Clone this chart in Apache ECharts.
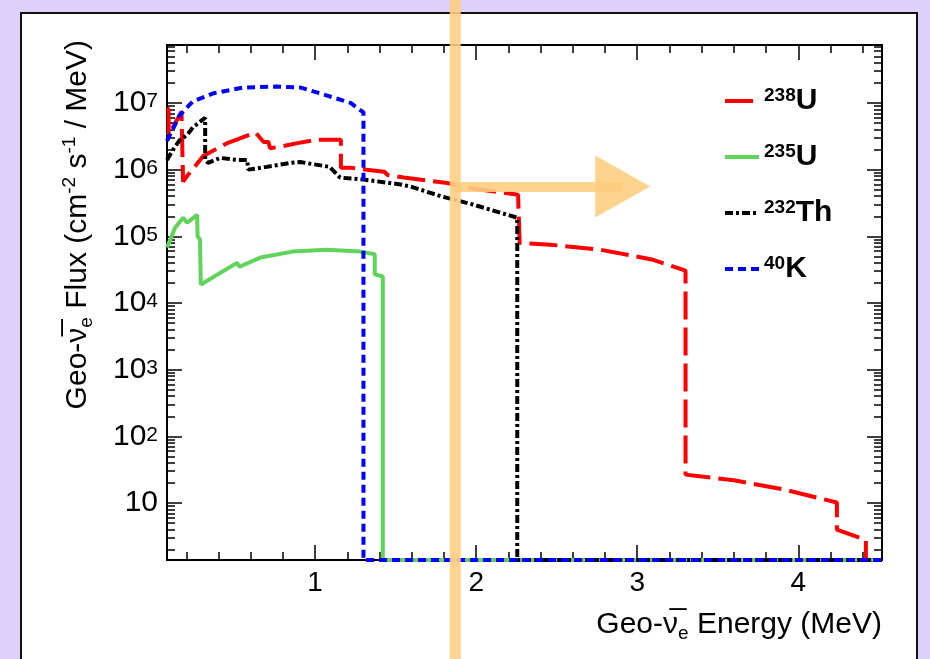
<!DOCTYPE html>
<html>
<head>
<meta charset="utf-8">
<script src="https://cdn.jsdelivr.net/npm/echarts@6/dist/echarts.min.js"></script>
<style>
html, body { margin: 0; padding: 0; width: 930px; height: 659px; background: #ddd0fa; overflow: hidden; }
#panel { position: absolute; left: 20px; top: 12px; width: 894px; height: 670px; background: #fff; border: 2px solid #111; }
#chart { position: absolute; left: 0; top: 0; width: 930px; height: 659px; }
</style>
</head>
<body>
<div id="panel"></div>
<div id="chart"></div>
<script>
// axis ranges
var X_MIN = 0.08, X_MAX = 4.52;
var Y_MIN = 1.4, Y_MAX = 7.4e7;
var FLOOR = Y_MIN; // zero flux sits on the bottom of the frame

// tick values
var xMajor = [1, 2, 3, 4];
var xMinor = [0.2, 0.4, 0.6, 0.8, 1.2, 1.4, 1.6, 1.8, 2.2, 2.4, 2.6, 2.8, 3.2, 3.4, 3.6, 3.8, 4.2, 4.4];
var yMajor = [10, 100, 1e3, 1e4, 1e5, 1e6, 1e7];
var yDecades = [1, 10, 100, 1e3, 1e4, 1e5, 1e6, 1e7];
var yMult = [2, 3, 4, 5, 6, 7, 8, 9];

// 238U
var u238E = [0.08, 0.09, 0.09, 0.17, 0.18, 0.18, 0.205, 0.305, 0.455, 0.63, 0.68, 0.71, 0.72, 0.78, 0.89, 1.01, 1.16, 1.16, 1.22, 1.32, 1.43, 1.45, 1.55, 1.82, 1.98, 2.26, 2.27, 2.27, 2.46, 2.77, 3.09, 3.30, 3.30, 3.60, 3.91, 4.12, 4.24, 4.24, 4.42, 4.42, 4.52];
var u238F = [8.5e6, 7.9e6, 3.3e6, 7.4e6, 7.4e6, 6.6e5, 8.0e5, 1.6e6, 2.5e6, 3.6e6, 2.6e6, 2.6e6, 2.1e6, 2.2e6, 2.5e6, 2.8e6, 2.8e6, 1.07e6, 1.07e6, 1.0e6, 9.3e5, 8.3e5, 7.6e5, 6.3e5, 5.2e5, 4.2e5, 4.2e5, 8.0e4, 7.5e4, 6.3e4, 4.5e4, 3.05e4, 26.7, 22, 16, 12, 10.2, 4.0, 2.8, FLOOR, FLOOR];

// 235U
var u235E = [0.08, 0.13, 0.18, 0.205, 0.267, 0.27, 0.285, 0.29, 0.515, 0.53, 0.66, 0.86, 1.07, 1.28, 1.37, 1.37, 1.42, 1.42, 4.52];
var u235F = [6.8e4, 1.35e5, 1.9e5, 1.6e5, 2.1e5, 1.0e5, 8.9e4, 1.9e4, 4.0e4, 3.5e4, 4.8e4, 5.9e4, 6.3e4, 5.9e4, 5.4e4, 2.7e4, 2.5e4, FLOOR, FLOOR];

// 232Th
var th232E = [0.08, 0.118, 0.16, 0.205, 0.24, 0.317, 0.317, 0.335, 0.41, 0.515, 0.578, 0.584, 0.70, 0.845, 0.907, 1.09, 1.155, 1.30, 1.53, 1.59, 1.78, 1.98, 2.255, 2.255, 4.52];
var th232F = [1.4e6, 2.0e6, 2.8e6, 3.3e6, 4.3e6, 6.0e6, 1.4e6, 1.26e6, 1.5e6, 1.4e6, 1.4e6, 1.0e6, 1.1e6, 1.26e6, 1.3e6, 1.1e6, 7.6e5, 7.1e5, 6.0e5, 5.6e5, 4.0e5, 3.0e5, 1.9e5, FLOOR, FLOOR];

// 40K
var k40E = [0.08, 0.16, 0.24, 0.37, 0.55, 0.76, 0.91, 1.07, 1.22, 1.30, 1.30, 4.52];
var k40F = [2.7e6, 6.6e6, 1.05e7, 1.4e7, 1.7e7, 1.76e7, 1.7e7, 1.3e7, 1.0e7, 7.2e6, FLOOR, FLOOR];

// highlighter marks drawn over the figure
var markE = [1.87];
var arrowE = [1.87, 2.91];
var arrowF = [5.6e5, 5.6e5];

var FONT = 'Liberation Sans, Arial, Helvetica, sans-serif';
var HL = 'rgba(253, 206, 130, 0.9)';

function zip(xs, ys) {
    var out = [];
    for (var i = 0; i < xs.length; i++) out.push([xs[i], ys[i]]);
    return out;
}

var yMinor = [];
yDecades.forEach(function (d) {
    yMult.forEach(function (m) { yMinor.push(d * m); });
});

function xAxisCfg(pos, ticks, len, labels) {
    return {
        type: 'value', min: X_MIN, max: X_MAX, position: pos,
        axisLine: { show: true, onZero: false, lineStyle: { color: '#000', width: 2 } },
        axisTick: { show: true, inside: true, length: len, customValues: ticks, lineStyle: { color: '#000', width: 1.5 } },
        axisLabel: {
            show: labels, customValues: xMajor, margin: 8,
            fontFamily: FONT, fontSize: 28, lineHeight: 30, color: '#000'
        },
        splitLine: { show: false }
    };
}

function yAxisCfg(pos, ticks, len, labels) {
    return {
        type: 'log', logBase: 10, min: Y_MIN, max: Y_MAX, position: pos,
        axisLine: { show: true, onZero: false, lineStyle: { color: '#000', width: 2 } },
        axisTick: { show: true, inside: true, length: len, customValues: ticks, lineStyle: { color: '#000', width: 1.5 } },
        axisLabel: {
            show: labels, customValues: yMajor, margin: 9, color: '#000',
            formatter: function (v) {
                var p = Math.round(Math.log(v) / Math.LN10);
                if (p === 1) return '{p|10}';
                return '{b|10}{s|' + p + '}';
            },
            rich: {
                p: { fontFamily: FONT, fontSize: 30, lineHeight: 30 },
                b: { fontFamily: FONT, fontSize: 30, lineHeight: 30, padding: [6, 0, 0, 0], verticalAlign: 'bottom' },
                s: { fontFamily: FONT, fontSize: 21, lineHeight: 21, padding: [3, 0, 0, 0], verticalAlign: 'top' }
            }
        },
        splitLine: { show: false }
    };
}

var dom = document.getElementById('chart');
var myChart = echarts.init(dom, null, { renderer: 'canvas' });

var titleRich = {
    sub: { fontFamily: FONT, fontSize: 19, lineHeight: 17, verticalAlign: 'bottom' },
    sup: { fontFamily: FONT, fontSize: 19, lineHeight: 17, verticalAlign: 'top' }
};

var option = {
    animation: false,
    backgroundColor: 'transparent',
    grid: { left: 167, right: 48, top: 45, bottom: 99, containLabel: false },
    legend: {
        data: ['238U', '235U', '232Th', '40K'],
        orient: 'vertical',
        left: 723, top: 74,
        padding: 0,
        itemWidth: 34, itemHeight: 14, itemGap: 14,
        itemStyle: { opacity: 0 },
        lineStyle: { width: 4 },
        formatter: function (name) {
            var m = name.match(/^(\d+)(\D+)$/);
            return '{s|' + m[1] + '}{b|' + m[2] + '}';
        },
        textStyle: {
            color: '#000',
            rich: {
                s: { fontFamily: FONT, fontWeight: 'bold', fontSize: 19, lineHeight: 19, verticalAlign: 'top' },
                b: { fontFamily: FONT, fontWeight: 'bold', fontSize: 30, lineHeight: 30, padding: [12, 0, 0, 0], verticalAlign: 'bottom' }
            }
        }
    },
    xAxis: [
        xAxisCfg('bottom', xMajor, 15, true),
        xAxisCfg('bottom', xMinor, 8, false),
        xAxisCfg('top', xMajor, 15, false),
        xAxisCfg('top', xMinor, 8, false)
    ],
    yAxis: [
        yAxisCfg('left', yMajor, 15, true),
        yAxisCfg('left', yMinor, 8, false),
        yAxisCfg('right', yMajor, 15, false),
        yAxisCfg('right', yMinor, 8, false)
    ],
    graphic: {
        elements: [{
            id: 'ytitle', type: 'text', x: 78, y: 40, rotation: Math.PI / 2, z: 50,
            style: {
                text: 'Geo-\u03bd\u0305{sub|e} Flux (cm{sup|-2} s{sup|-1} / MeV)',
                font: '30px ' + FONT, lineHeight: 36, fill: '#000',
                align: 'right', verticalAlign: 'middle', rich: titleRich
            }
        }, {
            id: 'xtitle', type: 'text', x: 882, y: 625, z: 50,
            style: {
                text: 'Geo-\u03bd\u0305{sub|e} Energy (MeV)',
                font: '30px ' + FONT, lineHeight: 36, fill: '#000',
                align: 'right', verticalAlign: 'middle', rich: titleRich
            }
        }]
    },
    series: [{
        name: '238U', type: 'line', data: zip(u238E, u238F), symbol: 'none', z: 3,
        itemStyle: { color: '#ff0000' },
        lineStyle: { color: '#ff0000', width: 4, type: [28, 8] }
    }, {
        name: '235U', type: 'line', data: zip(u235E, u235F), symbol: 'none', z: 3,
        itemStyle: { color: '#5fd35a' },
        lineStyle: { color: '#5fd35a', width: 4, type: 'solid' }
    }, {
        name: '232Th', type: 'line', data: zip(th232E, th232F), symbol: 'none', z: 4,
        itemStyle: { color: '#000' },
        lineStyle: { color: '#000', width: 4, type: [8, 3, 3, 3] }
    }, {
        name: '40K', type: 'line', data: zip(k40E, k40F), symbol: 'none', z: 4,
        itemStyle: { color: '#0000ff' },
        lineStyle: { color: '#0000ff', width: 4, type: [8, 5] }
    }, {
        name: 'highlight', type: 'line', data: [], symbol: 'none', z: 10,
        markLine: {
            silent: true, animation: false,
            symbol: ['none', 'triangle'], symbolSize: [62, 55],
            label: { show: false },
            lineStyle: { color: HL, width: 10, type: 'solid' },
            data: [[{ coord: [arrowE[0], arrowF[0]] }, { coord: [arrowE[1], arrowF[1]] }]]
        }
    }]
};

if (option && typeof option === "object") {
    myChart.setOption(option, true);
    var hx = myChart.convertToPixel({ xAxisIndex: 0 }, markE[0]);
    myChart.setOption({
        graphic: {
            elements: [{
                id: 'hl', type: 'line', z: 100, silent: true,
                shape: { x1: hx, y1: 0, x2: hx, y2: dom.clientHeight },
                style: { stroke: HL, lineWidth: 11 }
            }]
        }
    });
    window.onresize = myChart.resize;
}
</script>
</body>
</html>
